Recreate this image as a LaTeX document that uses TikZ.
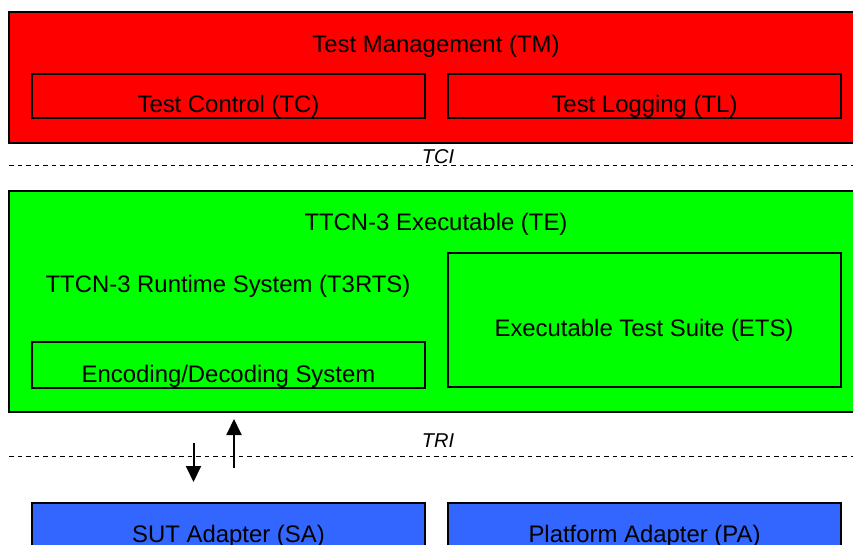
\documentclass[tikz,border=0pt]{standalone}
\usepackage{fontspec}
\setmainfont{Liberation Sans}
\usetikzlibrary{arrows.meta}
\definecolor{tmred}{HTML}{FF0000}
\definecolor{tegreen}{HTML}{00FF00}
\definecolor{adblue}{HTML}{3366FF}
\tikzset{
  outerbox/.style={draw=black, line width=2.2pt},
  innerbox/.style={draw=black, line width=1.8pt},
  lbl/.style={anchor=base, inner sep=0pt, font=\fontsize{23.9}{26}\selectfont},
  ifl/.style={anchor=base, inner sep=0pt, font=\fontsize{20}{22}\selectfont\itshape},
  ifline/.style={draw=black, line width=0.9pt, dash pattern=on 4.5pt off 4pt},
  flow/.style={draw=black, line width=2pt, -{Triangle[length=16pt,width=15pt]}}
}
\begin{document}
\begin{tikzpicture}[x=1pt,y=-1pt]
\useasboundingbox (0,0) rectangle (853,545);
\clip (0,0) rectangle (853,545);
% Test Management
\path[outerbox, fill=tmred] (9,12) rectangle (870,143);
\node[lbl] (tmtxt) at (436,52.5) {Test Management (TM)};
\path[innerbox] (32,74) rectangle (425,118);
\path[innerbox] (448,74) rectangle (841,118);
\node[lbl] (tc) at (228.5,113) {Test Control (TC)};
\node[lbl] (tl) at (644.5,113) {Test Logging (TL)};
% TCI
\coordinate (tcil) at (9,165);
\coordinate (tcir) at (853,165);
\draw[ifline] (tcil) -- (tcir);
\node[ifl] (tci) at (438,163.5) {TCI};
% TTCN-3 Executable
\path[outerbox, fill=tegreen] (9,191) rectangle (870,412);
\node[lbl] (te) at (436,230.5) {TTCN-3 Executable (TE)};
\node[lbl] (t3rts) at (228,292.5) {TTCN-3 Runtime System (T3RTS)};
\path[innerbox] (32,342) rectangle (425,388);
\node[lbl] (cd) at (228.5,382.5) {Encoding/Decoding System};
\path[innerbox] (448,253) rectangle (841,387);
\node[lbl] (ets) at (644,336) {Executable Test Suite (ETS)};
% TRI
\coordinate (tril) at (9,456);
\coordinate (trir) at (853,456);
\draw[ifline] (tril) -- (trir);
\node[ifl] (tri) at (438,447.5) {TRI};
% arrows
\coordinate (d1) at (193.5,443);
\coordinate (d2) at (193.5,482);
\coordinate (u1) at (234,467.5);
\coordinate (u2) at (234,419);
\draw[flow] (d1) -- (d2);
\draw[flow] (u1) -- (u2);
% Adapters
\path[innerbox, fill=adblue] (32,503) rectangle (425,570);
\path[innerbox, fill=adblue] (448,503) rectangle (841,570);
\node[lbl] (sa) at (228.5,542) {SUT Adapter (SA)};
\node[lbl] (pa) at (644.5,542) {Platform Adapter (PA)};
\end{tikzpicture}
\end{document}
